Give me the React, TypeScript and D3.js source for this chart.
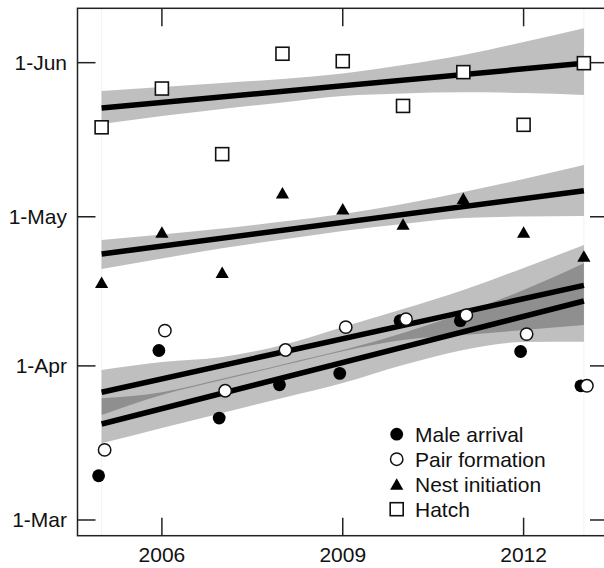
import React from "react";
import * as d3 from "d3";

// ---- data (day of year; 1-Mar = 60) ----
const years = [2005, 2006, 2007, 2008, 2009, 2010, 2011, 2012, 2013];
const maleArrival = [68.9, 94.1, 80.5, 87.2, 89.5, 100.1, 100.1, 93.9, 87.0];
const pairFormation = [74.1, 98.1, 86.0, 94.2, 98.8, 100.4, 101.2, 97.4, 87.0];
const nestInitiation = [107.8, 117.9, 109.8, 125.8, 122.6, 119.5, 124.7, 117.9, 113.1];
const hatch = [139.0, 146.8, 133.6, 153.8, 152.3, 143.3, 150.1, 139.5, 151.9];

// fitted trend lines (value at 2005 and 2013)
const fitYears = [2005, 2013];
const maleFit = [79.31, 104.06];
const pairFit = [85.71, 107.21];
const nestFit = [113.51, 126.24];
const hatchFit = [142.88, 151.87];

// confidence bands (one value per year)
const maleUpper = [84.48, 85.71, 88.41, 91.3, 94.18, 97.62, 101.64, 106.27, 111.64];
const maleLower = [75.43, 78.51, 81.53, 84.54, 87.56, 91.18, 94.2, 95.81, 95.87];
const pairUpper = [90.18, 91.78, 92.79, 95.2, 98.83, 102.45, 106.27, 110.69, 115.32];
const pairLower = [81.12, 85.15, 88.16, 91.06, 93.96, 96.21, 97.22, 98.22, 99.23];
const nestUpper = [116.33, 117.43, 118.64, 120.05, 121.56, 123.57, 125.98, 128.6, 131.42];
const nestLower = [110.49, 112.61, 114.66, 116.43, 118.14, 119.55, 120.75, 121.06, 121.16];
const hatchUpper = [146.3, 147.11, 147.91, 148.72, 149.82, 151.53, 153.54, 156.16, 158.92];
const hatchLower = [139.66, 141.27, 142.68, 143.99, 145.3, 145.8, 146.04, 145.9, 145.5];

const xTicks = [2006, 2009, 2012];
const yTickValues = [60, 91, 121, 152];
const yTickLabels = ["1-Mar", "1-Apr", "1-May", "1-Jun"];
const legendLabels = ["Male arrival", "Pair formation", "Nest initiation", "Hatch"];

const W = 604;
const H = 568;
const L = 77.5, R = 608, T = 8.3, B = 535.7;
const FONT = "'Liberation Sans', Arial, Helvetica, sans-serif";

export default function App() {
  const x = d3.scaleLinear().domain([2004.6, 2013.4]).range([L, R]);
  const y = d3.scaleLinear().domain([56.84, 162.94]).range([B, T]);

  const band = (upper: number[], lower: number[]) =>
    d3
      .area<number>()
      .x((_, i) => x(years[i]))
      .y0((_, i) => y(lower[i]))
      .y1((_, i) => y(upper[i]))
      .curve(d3.curveMonotoneX)(upper.map((_, i) => i)) as string;

  const fitLine = (vals: number[]) =>
    d3
      .line<number>()
      .x((_, i) => x(fitYears[i]))
      .y((v) => y(v))(vals) as string;

  const bands = [
    [hatchUpper, hatchLower],
    [nestUpper, nestLower],
    [pairUpper, pairLower],
    [maleUpper, maleLower],
  ];
  const fits = [hatchFit, nestFit, pairFit, maleFit];

  const tri = (cx: number, cy: number) =>
    `M${cx},${cy - 5.9}L${cx + 6.6},${cy + 5.6}L${cx - 6.6},${cy + 5.6}Z`;

  const legendX = 396.7;
  const legendTextX = 415;
  const legendBase = [442, 467, 492, 517];

  return (
    <svg
      width={W}
      height={H}
      style={{ position: "absolute", left: 0, top: 0, background: "#fff" }}
      fontFamily={FONT}
    >
      <rect x={0} y={0} width={W} height={H} fill="#fff" />
      {/* faint edge lines */}
      {[2005, 2013].map((yr) => (
        <line key={yr} x1={x(yr)} x2={x(yr)} y1={T} y2={B} stroke="#f2f2f2" strokeWidth={1} />
      ))}
      {/* bands */}
      {bands.map(([u, l], i) => (
        <path key={i} d={band(u, l)} fill="#000" fillOpacity={0.25} />
      ))}
      {/* fit lines */}
      {fits.map((f, i) => (
        <path key={i} d={fitLine(f)} stroke="#000" strokeWidth={5.5} fill="none" />
      ))}
      {/* hatch squares */}
      {years.map((yr, i) => (
        <rect
          key={"h" + yr}
          x={x(yr) - 6.5}
          y={y(hatch[i]) - 6.5}
          width={13}
          height={13}
          fill="#fff"
          stroke="#111"
          strokeWidth={1.6}
        />
      ))}
      {/* nest triangles */}
      {years.map((yr, i) => (
        <path key={"n" + yr} d={tri(x(yr), y(nestInitiation[i]))} fill="#000" />
      ))}
      {/* male arrival */}
      {years.map((yr, i) => (
        <circle key={"m" + yr} cx={x(yr) - 3} cy={y(maleArrival[i])} r={6.4} fill="#000" />
      ))}
      {/* pair formation */}
      {years.map((yr, i) => (
        <circle
          key={"p" + yr}
          cx={x(yr) + 3}
          cy={y(pairFormation[i])}
          r={6.2}
          fill="#fff"
          stroke="#111"
          strokeWidth={1.5}
        />
      ))}
      {/* frame */}
      <rect x={L} y={T} width={R - L} height={B - T} fill="none" stroke="#222" strokeWidth={1.5} />
      {/* y ticks */}
      {yTickValues.map((v, i) => (
        <g key={"yt" + v}>
          <line x1={L} x2={L + 18} y1={y(v)} y2={y(v)} stroke="#222" strokeWidth={1.5} />
          <line x1={R} x2={R - 18} y1={y(v)} y2={y(v)} stroke="#222" strokeWidth={1.5} />
          <text x={67} y={y(v) + 7.5} textAnchor="end" fontSize={21} fill="#111">
            {yTickLabels[i]}
          </text>
        </g>
      ))}
      {/* x ticks */}
      {xTicks.map((t) => (
        <g key={"xt" + t}>
          <line x1={x(t)} x2={x(t)} y1={B} y2={B - 18} stroke="#222" strokeWidth={1.5} />
          <line x1={x(t)} x2={x(t)} y1={T} y2={T + 18} stroke="#222" strokeWidth={1.5} />
          <text x={x(t)} y={562.3} textAnchor="middle" fontSize={21} fill="#111">
            {t}
          </text>
        </g>
      ))}
      {/* legend */}
      {legendLabels.map((lab, i) => {
        const cy = legendBase[i] - 7.8;
        let marker;
        if (i === 0) marker = <circle cx={legendX} cy={cy} r={6.4} fill="#000" />;
        else if (i === 1)
          marker = <circle cx={legendX} cy={cy} r={6.2} fill="#fff" stroke="#111" strokeWidth={1.5} />;
        else if (i === 2) marker = <path d={tri(legendX, cy)} fill="#000" />;
        else
          marker = (
            <rect x={legendX - 6.5} y={cy - 6.5} width={13} height={13} fill="#fff" stroke="#111" strokeWidth={1.6} />
          );
        return (
          <g key={lab}>
            {marker}
            <text x={legendTextX} y={legendBase[i]} fontSize={21} fill="#111">
              {lab}
            </text>
          </g>
        );
      })}
    </svg>
  );
}
